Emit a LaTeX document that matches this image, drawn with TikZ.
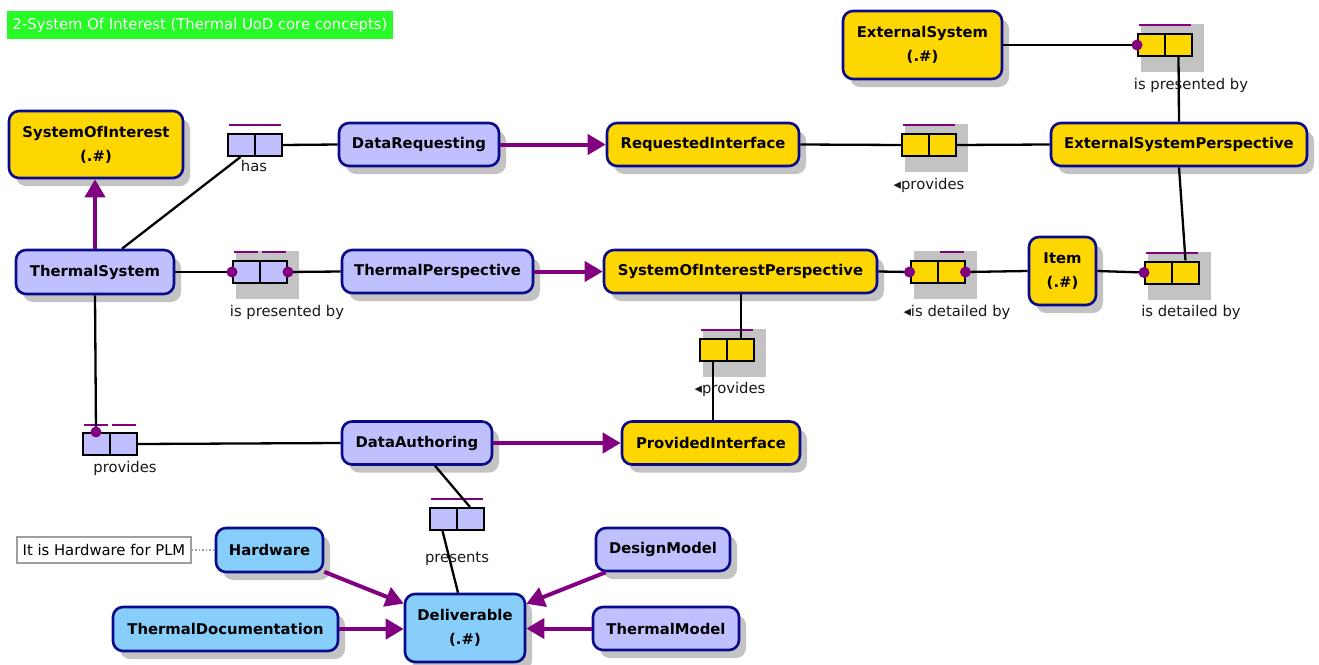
\documentclass[tikz,border=0pt]{standalone}
\usepackage{fontspec}
\setmainfont{DejaVu Sans}
\usetikzlibrary{arrows.meta,shadows,backgrounds}
\definecolor{yel}{RGB}{255,215,0}
\definecolor{lav}{RGB}{192,192,255}
\definecolor{sky}{RGB}{135,206,250}
\definecolor{navy}{RGB}{10,10,140}
\definecolor{purp}{RGB}{128,0,128}
\definecolor{shad}{RGB}{195,195,195}
\definecolor{ttlgreen}{RGB}{40,250,40}
\tikzset{
 cls/.style={rectangle, rounded corners=10pt, draw=navy, line width=2.6pt, align=center, inner sep=2pt,
   font=\fontsize{14.8}{24}\selectfont\bfseries, text=black,
   drop shadow={shadow xshift=7pt, shadow yshift=-8pt, fill=shad, opacity=1}},
 rel/.style={rectangle, draw=black, line width=2pt, minimum width=54pt, minimum height=22pt, inner sep=0pt},
 lbl/.style={font=\fontsize{14.8}{17}\selectfont, text=black!90, inner sep=0pt},
 conn/.style={line width=2.3pt, black},
 inh/.style={line width=4pt, purp, -{Triangle[length=18pt,width=20pt]}},
 ovl/.style={line width=2pt, purp},
}
\newcommand\relshad[1]{\fill[shad] ([xshift=4pt,yshift=9pt]#1.north west) rectangle ([xshift=11pt,yshift=-15pt]#1.south east);}
\newcommand\ovfull[2]{\draw[ovl] ([xshift=2pt,yshift=#2]#1.north west) -- ([xshift=-2pt,yshift=#2]#1.north east);}
\newcommand\ovleft[2]{\draw[ovl] ([xshift=2pt,yshift=#2]#1.north west) -- ([xshift=-2pt,yshift=#2]#1.north);}
\newcommand\ovright[2]{\draw[ovl] ([xshift=2pt,yshift=#2]#1.north) -- ([xshift=-2pt,yshift=#2]#1.north east);}
\newcommand\divider[1]{\draw[line width=2pt] (#1.north) -- (#1.south);}
\begin{document}
\begin{tikzpicture}[x=1pt,y=-1pt]
\useasboundingbox (0,0) rectangle (1319,664);

% title
\node[fill=ttlgreen, minimum width=386pt, minimum height=28pt, inner sep=0pt, text=white,
  font=\fontsize{14.8}{17}\selectfont] (title) at (200,25) {2-System Of Interest (Thermal UoD core concepts)};

% class nodes
\node[cls, fill=yel, minimum width=174pt, minimum height=67pt] (soi) at (96,144.5) {SystemOfInterest\\(.\#)};
\node[cls, fill=lav, minimum width=158pt, minimum height=44pt] (ts) at (95,272) {ThermalSystem};
\node[cls, fill=lav, minimum width=160pt, minimum height=43pt] (dr) at (419,144.5) {DataRequesting};
\node[cls, fill=yel, minimum width=192pt, minimum height=43pt] (ri) at (703,144.5) {RequestedInterface};
\node[cls, fill=yel, minimum width=256pt, minimum height=43pt] (esp) at (1179,144.5) {ExternalSystemPerspective};
\node[cls, fill=yel, minimum width=159pt, minimum height=68pt] (es) at (922.5,45) {ExternalSystem\\(.\#)};
\node[cls, fill=lav, minimum width=191pt, minimum height=43pt] (tp) at (437.5,271.5) {ThermalPerspective};
\node[cls, fill=yel, minimum width=273pt, minimum height=43pt] (soip) at (740.5,271.5) {SystemOfInterestPerspective};
\node[cls, fill=yel, minimum width=67pt, minimum height=68pt] (item) at (1062.5,271) {Item\\(.\#)};
\node[cls, fill=yel, minimum width=178pt, minimum height=43pt] (pi) at (711,443) {ProvidedInterface};
\node[cls, fill=lav, minimum width=150pt, minimum height=43pt] (da) at (417,443) {DataAuthoring};
\node[cls, fill=sky, minimum width=107pt, minimum height=44pt] (hw) at (269.5,550) {Hardware};
\node[cls, fill=sky, minimum width=225pt, minimum height=44pt] (td) at (225.5,629) {ThermalDocumentation};
\node[cls, fill=sky, minimum width=120pt, minimum height=68pt] (del) at (465,628) {Deliverable\\(.\#)};
\node[cls, fill=lav, minimum width=134pt, minimum height=43pt] (dm) at (663,549.5) {DesignModel};
\node[cls, fill=lav, minimum width=146pt, minimum height=43pt] (tm) at (666,628.5) {ThermalModel};

% note
\node[rectangle, draw=gray!75, line width=1.5pt, fill=white, minimum width=174pt, minimum height=26pt,
  inner sep=0pt, font=\fontsize{14.8}{17}\selectfont] (note) at (104,550) {It is Hardware for PLM};

% relation boxes
\node[rel, fill=lav] (r1) at (254.5,145) {};
\node[rel, fill=yel] (r2) at (929,145) {};
\node[rel, fill=yel] (r3) at (1165,45) {};
\node[rel, fill=lav] (r4) at (260,272) {};
\node[rel, fill=yel] (r5) at (937.5,272) {};
\node[rel, fill=yel] (r6) at (1172,272.5) {};
\node[rel, fill=yel] (r7) at (727,349.5) {};
\node[rel, fill=lav] (r8) at (109.5,444) {};
\node[rel, fill=lav] (r9) at (456.5,519) {};
\foreach \r in {r1,r2,r3,r4,r5,r6,r7,r8,r9}{\divider{\r}}

\begin{scope}[on background layer]
\relshad{r2}\relshad{r3}\relshad{r4}\relshad{r5}\relshad{r6}\relshad{r7}
\end{scope}

% overlines
\ovfull{r1}{8pt}
\ovfull{r2}{8pt}
\ovfull{r3}{8pt}
\ovleft{r4}{8pt}\ovright{r4}{8pt}
\ovright{r5}{8pt}
\ovfull{r6}{8pt}
\ovfull{r7}{8pt}
\ovleft{r8}{7pt}\ovright{r8}{7pt}
\ovfull{r9}{8pt}

% labels
\node[lbl] (l1) at (254,166) {has};
\node[lbl] (l2) at (929,185) {◂provides};
\node[lbl] (l3) at (1191,85) {is presented by};
\node[lbl] (l4) at (287,312) {is presented by};
\node[lbl] (l5) at (957,312) {◂is detailed by};
\node[lbl] (l6) at (1191,312) {is detailed by};
\node[lbl] (l7) at (730,389) {◂provides};
\node[lbl] (l8) at (125,468) {provides};
\node[lbl] (l9) at (457,559) {presents};

% black connectors
\draw[conn] ([xshift=27pt]ts.north) -- ([xshift=-14pt]r1.south);
\draw[conn] (r1.east) -- (dr.west);
\draw[conn] (ri.east) -- (r2.west);
\draw[conn] (r2.east) -- (esp.west);
\draw[conn] (es.east) -- (r3.west);
\draw[conn] ([xshift=13.5pt]r3.south) -- (esp.north);
\draw[conn] (ts.east) -- (r4.west);
\draw[conn] (r4.east) -- (tp.west);
\draw[conn] (soip.east) -- (r5.west);
\draw[conn] (r5.east) -- (item.west);
\draw[conn] (item.east) -- (r6.west);
\draw[conn] ([xshift=13.5pt]r6.north) -- (esp.south);
\draw[conn] ([xshift=14pt]r7.north) -- ([xshift=14pt]r7.north |- soip.south);
\draw[conn] ([xshift=-14pt]r7.south) -- ([xshift=-14pt]r7.south |- pi.north);
\draw[conn] (ts.south) -- ([xshift=-13.5pt]r8.north);
\draw[conn] (r8.east) -- (da.west);
\draw[conn] ([xshift=18pt]da.south) -- ([xshift=13.5pt]r9.north);
\draw[conn] ([xshift=-14pt]r9.south) -- ([xshift=-7pt]del.north);
\draw[gray!75, line width=1.5pt, dotted] (note.east) -- (hw.west);

% dots
\fill[purp] (r3.west) circle[radius=5.5pt];
\fill[purp] (r4.west) circle[radius=5.5pt];
\fill[purp] (r4.east) circle[radius=5.5pt];
\fill[purp] (r5.west) circle[radius=5.5pt];
\fill[purp] (r5.east) circle[radius=5.5pt];
\fill[purp] (r6.west) circle[radius=5.5pt];
\fill[purp] ([xshift=-13.5pt]r8.north) circle[radius=5.5pt];

% generalisation arrows
\draw[inh] (ts.north) -- (ts.north |- soi.south);
\draw[inh] (dr.east) -- (ri.west);
\draw[inh] (tp.east) -- (soip.west);
\draw[inh] (da.east) -- (pi.west);
\draw[inh] (hw) -- (del);
\draw[inh] (td.east) -- (del.west |- td.east);
\draw[inh] (dm) -- (del);
\draw[inh] (tm.west) -- (del.east |- tm.west);
\end{tikzpicture}
\end{document}
